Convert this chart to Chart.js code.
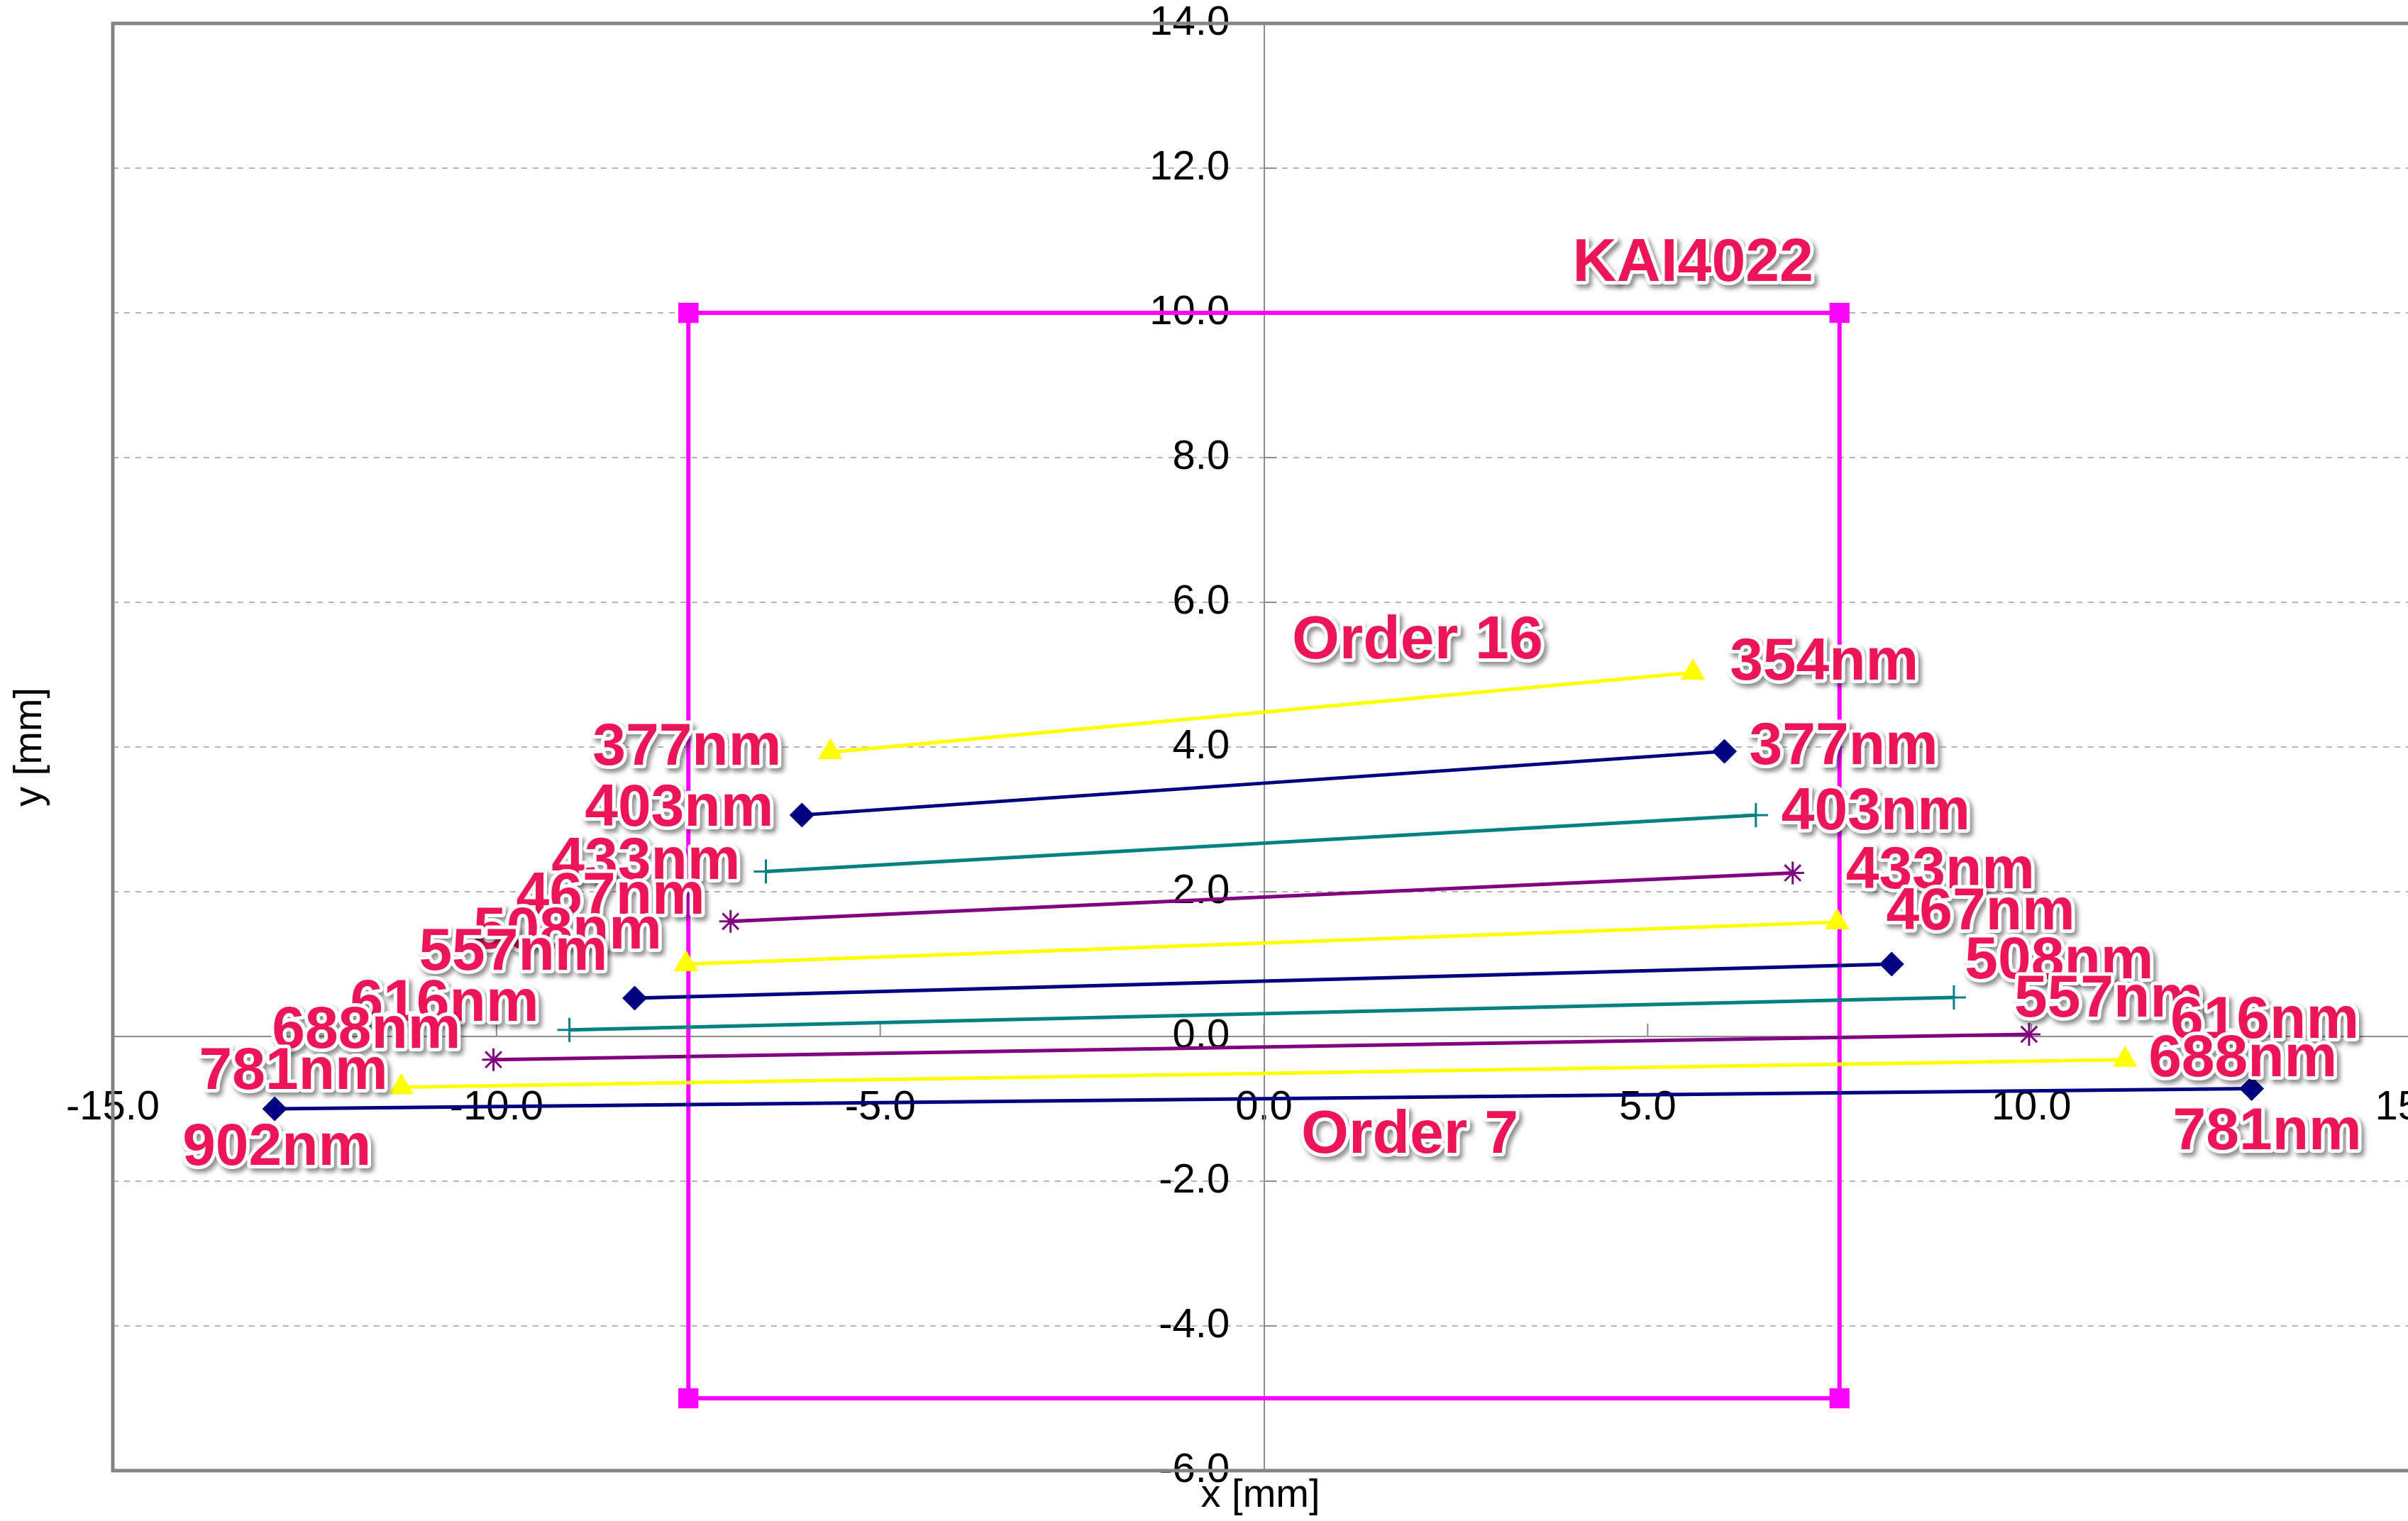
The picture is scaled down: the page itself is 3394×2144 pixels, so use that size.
<!DOCTYPE html>
<html>
<head>
<meta charset="utf-8">
<script src="https://cdn.jsdelivr.net/npm/chart.js@4.4.1/dist/chart.umd.min.js"></script>
<style>
  html, body { margin: 0; padding: 0; background: #fff; overflow: hidden; }
  /* a bit wider than the window: the reference cuts the plot at x = 15 */
  #wrap { width: 3424px; height: 2144px; position: relative; }
</style>
</head>
<body>
<div id="wrap"><canvas id="myChart"></canvas></div>
<script>
let ctx = document.getElementById('myChart')

// echelle orders, top line first
let orders = [16, 15, 14, 13, 12, 11, 10, 9, 8, 7]
// left end of each order [mm]
let leftX = [-5.65, -6.02, -6.49, -6.95, -7.53, -8.20, -9.05, -10.04, -11.24, -12.89]
let leftY = [3.93, 3.06, 2.28, 1.59, 1.00, 0.53, 0.09, -0.32, -0.70, -1.00]
// right end of each order [mm]
let rightX = [5.59, 6.00, 6.41, 6.89, 7.47, 8.18, 8.99, 9.97, 11.22, 12.87]
let rightY = [5.03, 3.94, 3.06, 2.26, 1.58, 1.00, 0.54, 0.03, -0.32, -0.72]
// wavelength at the ends [nm]
let leftNm = [377, 403, 433, 467, 508, 557, 616, 688, 781, 902]
let rightNm = [354, 377, 403, 433, 467, 508, 557, 616, 688, 781]

// KAI4022 sensor outline [mm]
let sensorX = [-7.5, 7.5, 7.5, -7.5, -7.5]
let sensorY = [10, 10, -5, -5, 10]

// axis ticks
let xTickValues = [-15, -10, -5, 0, 5, 10, 15]
let yTickValues = [-6, -4, -2, 0, 2, 4, 6, 8, 10, 12, 14]

// free text on the chart (data units)
let notes = [
    { text: 'Order 16', x: 2.0, y: 5.46 },
    { text: 'Order 7', x: 1.9, y: -1.38 },
    { text: 'KAI4022', x: 5.59, y: 10.67 },
]

//
// styles
let seriesColors = ['#FFFF00', '#000080', '#008080', '#800080']
let seriesMarkers = ['triangle', 'rectRot', 'cross', 'star']
let markerRadius = [19, 17, 17, 16]
let markerBorder = [1, 1, 3, 3]
// label placement next to its point, px: [dx, dy, align]
let leftLabelPos = [[-69, -5], [-40, -8], [-36, -13], [-36, -34], [-34, -45], [-38, -63], [-43, -36], [-46, -40], [-19, -21], [3, 56, 'center']]
let rightLabelPos = [[52, -13], [35, -5], [36, -3], [75, -2], [69, -13], [103, -3], [85, 4], [199, -18], [33, 0], [22, 62, 'center']]

let tickFont = '"Liberation Sans Narrow", "Liberation Sans", Arial, sans-serif'
let labelColor = '#EB1558'

let datasets = orders.map((ord, i) => ({
    label: 'Order ' + ord,
    data: [{ x: leftX[i], y: leftY[i] }, { x: rightX[i], y: rightY[i] }],
    showLine: true,
    borderColor: seriesColors[i % 4],
    backgroundColor: seriesColors[i % 4],
    borderWidth: 5,
    pointStyle: seriesMarkers[i % 4],
    pointRadius: markerRadius[i % 4],
    pointBorderWidth: markerBorder[i % 4],
    pointBorderColor: seriesColors[i % 4],
    pointBackgroundColor: seriesColors[i % 4],
}))

datasets.push({
    label: 'KAI4022',
    data: sensorX.map((x, i) => ({ x: x, y: sensorY[i] })),
    showLine: true,
    borderColor: '#FF00FF',
    backgroundColor: '#FF00FF',
    borderWidth: 6,
    pointStyle: 'rect',
    pointRadius: 20,
    pointBorderWidth: 0,
})

function fancyText(c, text, x, y, align, size) {
    c.save()
    c.font = 'bold ' + size + 'px "Liberation Sans", Arial, sans-serif'
    c.textAlign = align
    c.textBaseline = 'middle'
    c.lineJoin = 'round'
    c.shadowColor = 'rgba(0,0,0,0.45)'
    c.shadowOffsetX = 4
    c.shadowOffsetY = 5
    c.shadowBlur = 6
    c.strokeStyle = '#fff'
    c.lineWidth = 10
    c.strokeText(text, x, y)
    c.shadowColor = 'transparent'
    c.fillStyle = labelColor
    c.fillText(text, x, y)
    c.restore()
}

let decor = {
    id: 'decor',
    beforeDatasetsDraw(chart) {
        let c = chart.ctx
        let a = chart.chartArea
        let sx = chart.scales.x
        let sy = chart.scales.y
        let x0 = sx.getPixelForValue(0)
        let y0 = sy.getPixelForValue(0)
        c.save()
        // inner tick marks
        c.strokeStyle = '#8c8c8c'
        c.lineWidth = 2
        c.beginPath()
        xTickValues.forEach(v => {
            let px = sx.getPixelForValue(v)
            c.moveTo(px, y0)
            c.lineTo(px, y0 - 18)
        })
        yTickValues.forEach(v => {
            let py = sy.getPixelForValue(v)
            c.moveTo(x0, py)
            c.lineTo(x0 + 18, py)
        })
        c.stroke()
        // plot frame
        c.strokeStyle = '#d0d0d0'
        c.lineWidth = 2
        c.beginPath()
        c.moveTo(a.right - 8, a.top)
        c.lineTo(a.right - 8, a.bottom)
        c.stroke()
        c.strokeStyle = '#858585'
        c.lineWidth = 5
        c.beginPath()
        c.moveTo(a.right, a.top)
        c.lineTo(a.left, a.top)
        c.lineTo(a.left, a.bottom)
        c.lineTo(a.right, a.bottom)
        c.stroke()
        // axis titles
        c.fillStyle = '#000'
        c.font = '56px "Liberation Sans", Arial, sans-serif'
        c.textAlign = 'center'
        c.textBaseline = 'middle'
        c.fillText('x [mm]', (a.left + a.right) / 2 - 5, a.bottom + 36)
        c.translate(a.left - 116, (a.top + a.bottom) / 2)
        c.rotate(-Math.PI / 2)
        c.fillText('y [mm]', 0, 0)
        c.restore()
    },
    afterDatasetsDraw(chart) {
        let c = chart.ctx
        let sx = chart.scales.x
        let sy = chart.scales.y
        orders.forEach((ord, i) => {
            let lp = leftLabelPos[i]
            let rp = rightLabelPos[i]
            fancyText(c, leftNm[i] + 'nm', sx.getPixelForValue(leftX[i]) + lp[0], sy.getPixelForValue(leftY[i]) + lp[1], lp[2] || 'right', 84)
            fancyText(c, rightNm[i] + 'nm', sx.getPixelForValue(rightX[i]) + rp[0], sy.getPixelForValue(rightY[i]) + rp[1], rp[2] || 'left', 84)
        })
        notes.forEach(n => {
            fancyText(c, n.text, sx.getPixelForValue(n.x), sy.getPixelForValue(n.y), 'center', 86)
        })
    }
}

function noPadding(scale) {
    scale.paddingLeft = 0
    scale.paddingRight = 0
    scale.paddingTop = 0
    scale.paddingBottom = 0
}

new Chart(ctx, {
    type: 'scatter',
    data: { datasets: datasets },
    options: {
        responsive: true,
        maintainAspectRatio: false,
        animation: false,
        devicePixelRatio: 1,
        layout: { padding: { left: 159, top: 33, right: 0, bottom: 71 } },
        plugins: {
            legend: { display: false },
            tooltip: { enabled: false },
        },
        scales: {
            x: {
                type: 'linear',
                min: -15,
                max: 15,
                position: { y: 0 },
                afterBuildTicks: s => { s.ticks = xTickValues.map(v => ({ value: v })) },
                afterFit: noPadding,
                ticks: {
                    autoSkip: false,
                    maxRotation: 0,
                    padding: 66,
                    color: '#000',
                    font: { family: tickFont, size: 58 },
                    callback: v => v.toFixed(1),
                },
                grid: { display: true, drawOnChartArea: false, drawTicks: false },
                border: { display: true, color: '#8c8c8c', width: 2 },
            },
            y: {
                type: 'linear',
                min: -6,
                max: 14,
                position: { x: 0 },
                afterBuildTicks: s => { s.ticks = yTickValues.map(v => ({ value: v })) },
                afterFit: noPadding,
                ticks: {
                    autoSkip: false,
                    padding: 0,
                    color: '#000',
                    font: { family: tickFont, size: 58 },
                    callback: v => v.toFixed(1) + '   ',
                },
                grid: { color: '#b4b4b4', lineWidth: 2, drawTicks: false },
                border: { display: true, color: '#8c8c8c', width: 2, dash: [8, 8] },
            },
        },
    },
    plugins: [decor],
})
</script>
</body>
</html>
